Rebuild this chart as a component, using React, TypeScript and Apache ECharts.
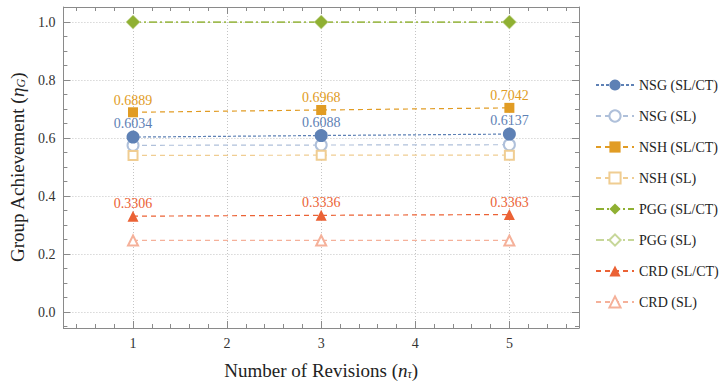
import React, { useEffect, useRef } from 'react';
import * as echarts from 'echarts';

// ---- data ----
const revisions = [1, 3, 5];
const nsgSLCT = [0.6034, 0.6088, 0.6137];
const nsgSL = [0.575, 0.576, 0.577];
const nshSLCT = [0.6889, 0.6968, 0.7042];
const nshSL = [0.540, 0.541, 0.541];
const pggSLCT = [1.0, 1.0, 1.0];
const pggSL = [1.0, 1.0, 1.0];
const crdSLCT = [0.3306, 0.3336, 0.3363];
const crdSL = [0.247, 0.247, 0.247];

const xTicks = [1, 2, 3, 4, 5];
const xMinorTicks = [0.4, 0.6, 0.8, 1.2, 1.4, 1.6, 1.8, 2.2, 2.4, 2.6, 2.8, 3.2, 3.4, 3.6, 3.8, 4.2, 4.4, 4.6, 4.8, 5.2, 5.4, 5.6];
const yTicks = [0, 0.2, 0.4, 0.6, 0.8, 1.0];
const yMinorTicks = [-0.05, 0.05, 0.1, 0.15, 0.25, 0.3, 0.35, 0.45, 0.5, 0.55, 0.65, 0.7, 0.75, 0.85, 0.9, 0.95, 1.05];

const X_MIN = 0.26;
const X_MAX = 5.74;
const Y_MIN = -0.055;
const Y_MAX = 1.052;

const FONT = '"Liberation Serif", "DejaVu Serif", serif';
const FRAME = '#8a8a8a';

const C = {
  blue: '#5E81B5', blueL: '#AFC0DA',
  orange: '#E19C24', orangeL: '#F0CD92',
  green: '#8FB032', greenL: '#C7D799',
  red: '#EB6235', redL: '#F5B19A',
};

function mk(name: string, vals: number[], color: string, symbol: string, size: number, dash: number[], label: boolean) {
  return {
    name,
    type: 'line',
    data: vals.map((v, i) => [revisions[i], v]),
    xAxisIndex: 0,
    yAxisIndex: 0,
    symbol,
    symbolSize: size,
    color,
    itemStyle: { color, borderColor: color, borderWidth: symbol.startsWith('empty') ? 1 : 0 },
    lineStyle: { color, width: 1.2, type: dash },
    label: label
      ? { show: true, position: 'top', distance: 0, color, fontFamily: FONT, fontSize: 14, formatter: (p: any) => p.value[1].toFixed(4) }
      : { show: false },
    emphasis: { disabled: true },
  };
}

const xBase = { type: 'value', min: X_MIN, max: X_MAX, gridIndex: 0 };
const yBase = { type: 'value', min: Y_MIN, max: Y_MAX, gridIndex: 0 };

function frameAxis(base: any, position: string, ticks: number[], len: number, showLine: boolean) {
  return {
    ...base,
    position,
    axisLine: { show: showLine, onZero: false, lineStyle: { color: FRAME, width: 1 } },
    axisTick: { show: true, inside: true, length: len, customValues: ticks, lineStyle: { color: FRAME, width: 1 } },
    axisLabel: { show: false },
    splitLine: { show: false },
  };
}

const titleText = (size: number) => ({
  fontFamily: FONT, fontSize: size, color: '#222',
  rich: {
    i: { fontFamily: FONT, fontStyle: 'italic', fontSize: size, color: '#222' },
    s: { fontFamily: FONT, fontStyle: 'italic', fontSize: 12, color: '#222', verticalAlign: 'bottom', padding: [6, 0, 0, 0] },
  },
});

export default function App() {
  const ref = useRef<HTMLDivElement>(null);
  useEffect(() => {
    const chart = echarts.init(ref.current!, null, { renderer: 'svg' });
    const names = ['NSG (SL/CT)', 'NSG (SL)', 'NSH (SL/CT)', 'NSH (SL)', 'PGG (SL/CT)', 'PGG (SL)', 'CRD (SL/CT)', 'CRD (SL)'];
    chart.setOption({
      animation: false,
      backgroundColor: '#fff',
      grid: { left: 60, right: 145, top: 7, bottom: 56, containLabel: false },
      legend: {
        orient: 'vertical',
        left: 590,
        top: 73,
        itemWidth: 38,
        itemHeight: 14,
        itemGap: 17,
        data: names,
        textStyle: { fontFamily: FONT, fontSize: 14, color: '#222' },
      },
      xAxis: [
        {
          ...xBase,
          position: 'bottom',
          axisLine: { show: true, onZero: false, lineStyle: { color: FRAME, width: 1 } },
          axisTick: { show: true, inside: true, length: 7, customValues: xTicks, lineStyle: { color: FRAME } },
          axisLabel: { show: true, customValues: xTicks, margin: 8, color: '#333', fontFamily: FONT, fontSize: 14 },
          splitLine: { show: true, lineStyle: { type: [1, 2], color: '#c4c4c4', width: 1 } },
          name: 'Number of Revisions ({i|n}{s|τ})',
          nameLocation: 'middle',
          nameGap: 33,
          nameTextStyle: titleText(19),
        },
        frameAxis(xBase, 'bottom', xMinorTicks, 4, false),
        frameAxis(xBase, 'top', xTicks, 7, true),
        frameAxis(xBase, 'top', xMinorTicks, 4, false),
      ],
      yAxis: [
        {
          ...yBase,
          position: 'left',
          axisLine: { show: true, onZero: false, lineStyle: { color: FRAME, width: 1 } },
          axisTick: { show: true, inside: true, length: 7, customValues: yTicks, lineStyle: { color: FRAME } },
          axisLabel: { show: true, customValues: yTicks, margin: 8, color: '#333', fontFamily: FONT, fontSize: 14, formatter: (v: number) => v.toFixed(1) },
          splitLine: { show: true, lineStyle: { type: [1, 2], color: '#c4c4c4', width: 1 } },
          name: 'Group Achievement ({i|η}{s|G})',
          nameLocation: 'middle',
          nameGap: 32,
          nameRotate: 90,
          nameTextStyle: titleText(19),
        },
        frameAxis(yBase, 'left', yMinorTicks, 4, false),
        frameAxis(yBase, 'right', yTicks, 7, true),
        frameAxis(yBase, 'right', yMinorTicks, 4, false),
      ],
      series: [
        mk('NSG (SL)', nsgSL, C.blueL, 'emptyCircle', 11, [5, 4], false),
        mk('NSH (SL)', nshSL, C.orangeL, 'emptyRect', 9, [5, 4], false),
        mk('PGG (SL)', pggSL, C.greenL, 'emptyDiamond', 12, [8, 3, 2, 3], false),
        mk('CRD (SL)', crdSL, C.redL, 'emptyTriangle', 10, [5, 4], false),
        mk('NSG (SL/CT)', nsgSLCT, C.blue, 'circle', 13, [3, 2], true),
        mk('NSH (SL/CT)', nshSLCT, C.orange, 'rect', 10, [5, 4], true),
        mk('PGG (SL/CT)', pggSLCT, C.green, 'diamond', 13, [8, 3, 2, 3], false),
        mk('CRD (SL/CT)', crdSLCT, C.red, 'triangle', 11, [5, 4], true),
      ],
    });
    return () => chart.dispose();
  }, []);
  return <div ref={ref} style={{ width: 724, height: 385, position: 'absolute', left: 0, top: 0 }} />;
}
